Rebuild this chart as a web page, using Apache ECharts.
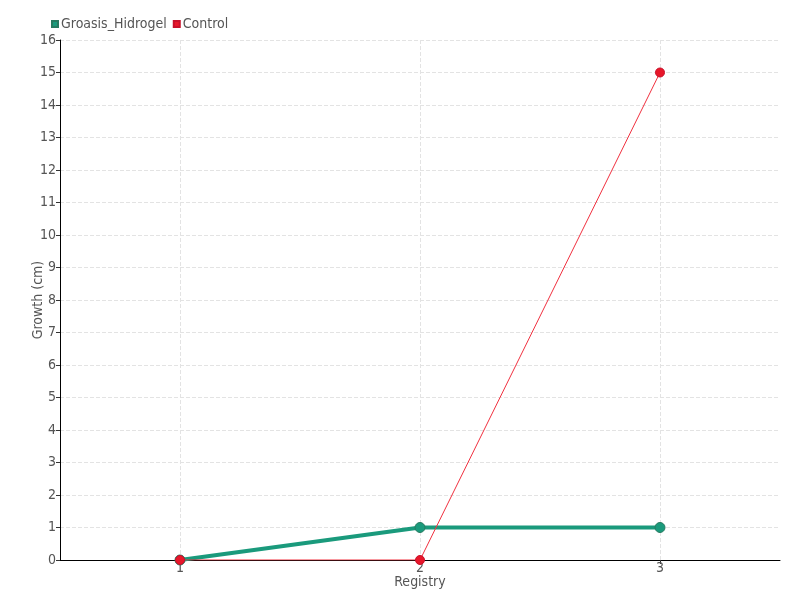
<!DOCTYPE html>
<html><head><meta charset="utf-8">
<script src="https://cdn.jsdelivr.net/npm/echarts@6/dist/echarts.min.js"></script>
<style>html,body{margin:0;padding:0;background:#fff}#c{width:800px;height:600px}</style>
</head><body><div id="c"></div>
<script>
const categories = ['1', '2', '3'];
const groasis = [0, 1, 1];
const control = [0, 0, 15];
const FONT = "'Liberation Sans Narrow', 'DejaVu Sans Condensed', sans-serif";
const chart = echarts.init(document.getElementById('c'));
chart.setOption({
  animation: false,
  textStyle: { fontFamily: FONT },
  legend: {
    left: 46, top: 12, itemWidth: 6, itemHeight: 6, itemGap: 6,
    icon: 'rect',
    textStyle: { fontFamily: FONT, fontSize: 14, color: '#555', padding: [0, 0, 0, -2] },
    data: ['Groasis_Hidrogel', 'Control']
  },
  grid: { left: 60, right: 20, top: 40, bottom: 40 },
  xAxis: {
    type: 'category', data: categories, boundaryGap: true,
    name: 'Registry', nameLocation: 'middle', nameGap: 15, nameMoveOverlap: false,
    nameTextStyle: { fontFamily: FONT, fontSize: 14, color: '#555' },
    axisLine: { lineStyle: { color: '#000' } },
    axisTick: { show: true, alignWithLabel: true, length: 4, lineStyle: { color: '#333' } },
    axisLabel: { fontFamily: FONT, fontSize: 14, color: '#555', margin: 1 },
    splitLine: { show: false }
  },
  yAxis: {
    type: 'value', min: 0, max: 16, interval: 1,
    name: 'Growth (cm)', nameLocation: 'middle', nameGap: 15, nameMoveOverlap: false,
    nameTextStyle: { fontFamily: FONT, fontSize: 14, color: '#555' },
    axisLine: { show: true, lineStyle: { color: '#000' } },
    axisTick: { show: true, inside: false, length: 4, lineStyle: { color: '#333' } },
    axisLabel: { fontFamily: FONT, fontSize: 14, color: '#555', margin: 4 },
    splitLine: { show: true, lineStyle: { type: 'dashed', color: '#e3e3e3' } }
  },
  series: [
    {
      name: 'Groasis_Hidrogel', type: 'line', data: groasis,
      symbol: 'circle', symbolSize: 10,
      itemStyle: { color: '#1a9a7c', borderColor: '#277a60', borderWidth: 1 },
      lineStyle: { width: 4, color: '#1a9a7c' }, z: 2,
      markLine: {
        silent: true, symbol: 'none', label: { show: false },
        lineStyle: { type: 'dashed', color: '#e3e3e3', width: 1 },
        data: categories.map(c => ({ xAxis: c })),
        z: 0
      }
    },
    {
      name: 'Control', type: 'line', data: control,
      symbol: 'circle', symbolSize: 9,
      itemStyle: { color: '#e8172a', borderColor: '#c8102a', borderWidth: 1 },
      lineStyle: { width: 1, color: '#f0303f' }, z: 3
    }
  ]
});
</script></body></html>
